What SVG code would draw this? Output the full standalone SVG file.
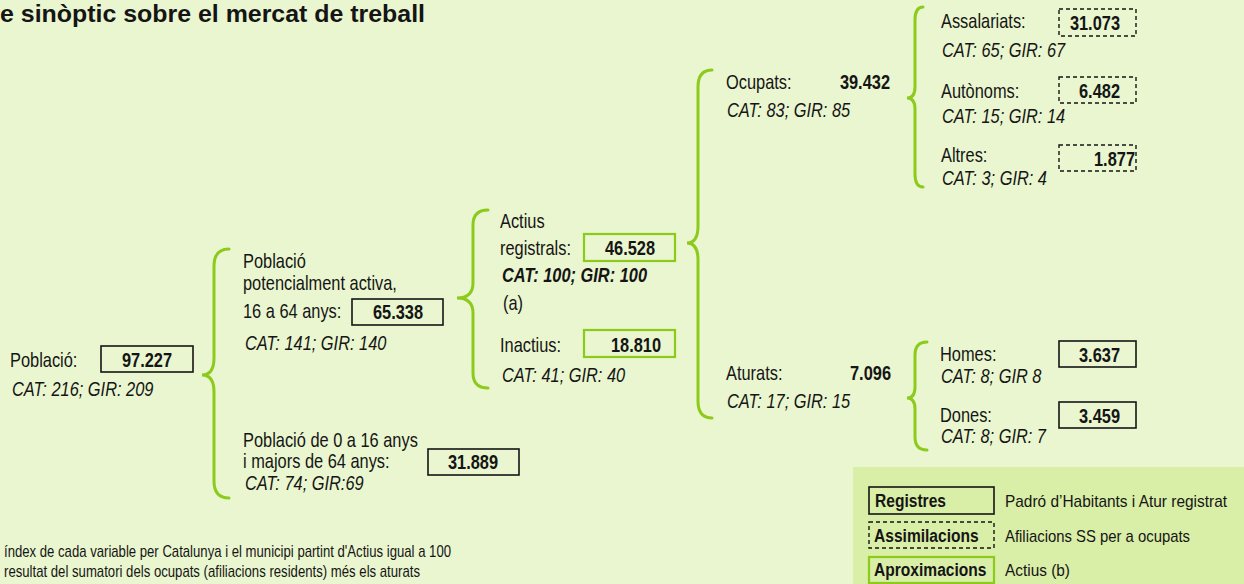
<svg xmlns="http://www.w3.org/2000/svg" width="1244" height="584" viewBox="0 0 1244 584">
<style>
text{font-family:"Liberation Sans",Arial,sans-serif;fill:#151515;font-size:20px}
.i{font-style:italic}
.b{font-weight:bold}
.n{font-weight:bold;text-anchor:middle}
.e{font-weight:bold;text-anchor:end}
.box{fill:none;stroke:#151515;stroke-width:1.6}
.dash{fill:none;stroke:#151515;stroke-width:1.4;stroke-dasharray:4 3}
.gbox{fill:none;stroke:#8ccb1c;stroke-width:2.2}
.brace{fill:none;stroke:#8ccb1c;stroke-width:3;stroke-linecap:round;stroke-linejoin:miter}
.s{font-size:17px}
.lg{font-size:19px;font-weight:bold}
</style>
<rect width="1244" height="584" fill="#eaf6cf"/>
<text x="0" y="22" class="b" style="font-size:24px" textLength="425" lengthAdjust="spacingAndGlyphs">e sinòptic sobre el mercat de treball</text>

<g id="connectors">
<path class="brace" d="M229 249 Q214 249 214 266 L214 358 Q214 375 202 375 Q214 375 214 392 L214 481 Q214 498 229 498"/>
<path class="brace" d="M488 210 Q473 210 473 225 L473 283 Q473 298 457 298 Q473 298 473 313 L473 373 Q473 388 488 388"/>
<path class="brace" d="M712 70 Q698 70 698 87 L698 226 Q698 243 687 243 Q698 243 698 260 L698 401 Q698 418 712 418"/>
<path class="brace" d="M923 7 Q915 7 915 20 L915 87 Q915 98 907 98 Q915 98 915 109 L915 174 Q915 187 923 187"/>
<path class="brace" d="M927 342 Q915 342 915 355 L915 387 Q915 398 907 398 Q915 398 915 409 L915 437 Q915 450 927 450"/>
</g>

<g id="poblacio">
<text transform="translate(10 367) scale(.82 1)">Població:</text>
<rect class="box" x="101" y="346" width="92" height="26"/>
<text transform="translate(147 367) scale(.82 1)" class="n">97.227</text>
<text transform="translate(12 396) scale(.82 1)" class="i">CAT: 216; GIR: 209</text>
</g>

<g id="pob-activa">
<text transform="translate(243 268) scale(.82 1)">Població</text>
<text transform="translate(243 290) scale(.82 1)">potencialment activa,</text>
<text transform="translate(243 318) scale(.82 1)">16 a 64 anys:</text>
<rect class="box" x="352" y="299" width="91" height="26"/>
<text transform="translate(398 319) scale(.82 1)" class="n">65.338</text>
<text transform="translate(245 350) scale(.82 1)" class="i">CAT: 141; GIR: 140</text>
</g>

<g id="pob-inactiva">
<text transform="translate(243 447) scale(.82 1)">Població de 0 a 16 anys</text>
<text transform="translate(243 468) scale(.82 1)">i majors de 64 anys:</text>
<rect class="box" x="428" y="449" width="91" height="26"/>
<text transform="translate(473 469) scale(.82 1)" class="n">31.889</text>
<text transform="translate(245 490) scale(.82 1)" class="i">CAT: 74; GIR:69</text>
</g>

<g id="actius">
<text transform="translate(500 228) scale(.82 1)">Actius</text>
<text transform="translate(500 255) scale(.82 1)">registrals:</text>
<rect class="gbox" x="584" y="234" width="91" height="27"/>
<text transform="translate(630 255) scale(.82 1)" class="n">46.528</text>
<text transform="translate(502 282) scale(.82 1)" class="i b">CAT: 100; GIR: 100</text>
<text transform="translate(503 310) scale(.82 1)">(a)</text>
</g>

<g id="inactius">
<text transform="translate(500 352) scale(.82 1)">Inactius:</text>
<rect class="gbox" x="584" y="330" width="91" height="27"/>
<text transform="translate(636 352) scale(.82 1)" class="n">18.810</text>
<text transform="translate(502 382) scale(.82 1)" class="i">CAT: 41; GIR: 40</text>
</g>

<g id="ocupats">
<text transform="translate(726 89) scale(.82 1)">Ocupats:</text>
<text transform="translate(890 89) scale(.82 1)" class="e">39.432</text>
<text transform="translate(727 117) scale(.82 1)" class="i">CAT: 83; GIR: 85</text>
</g>

<g id="aturats">
<text transform="translate(726 380) scale(.82 1)">Aturats:</text>
<text transform="translate(891 380) scale(.82 1)" class="e">7.096</text>
<text transform="translate(727 408) scale(.82 1)" class="i">CAT: 17; GIR: 15</text>
</g>

<g id="assalariats">
<text transform="translate(941 28) scale(.82 1)">Assalariats:</text>
<rect class="dash" x="1059" y="9" width="77" height="27"/>
<text transform="translate(1120 30) scale(.82 1)" class="e">31.073</text>
<text transform="translate(942 57) scale(.82 1)" class="i">CAT: 65; GIR: 67</text>
</g>

<g id="autonoms">
<text transform="translate(941 98) scale(.82 1)">Autònoms:</text>
<rect class="dash" x="1059" y="77" width="77" height="26"/>
<text transform="translate(1120 98) scale(.82 1)" class="e">6.482</text>
<text transform="translate(942 123) scale(.82 1)" class="i">CAT: 15; GIR: 14</text>
</g>

<g id="altres">
<text transform="translate(941 162) scale(.82 1)">Altres:</text>
<rect class="dash" x="1059" y="145" width="77" height="26"/>
<text transform="translate(1135 166) scale(.82 1)" class="e">1.877</text>
<text transform="translate(942 185) scale(.82 1)" class="i">CAT: 3; GIR: 4</text>
</g>

<g id="homes">
<text transform="translate(940 361) scale(.82 1)">Homes:</text>
<rect class="box" x="1059" y="341" width="77" height="26"/>
<text transform="translate(1120 362) scale(.82 1)" class="e">3.637</text>
<text transform="translate(941 383) scale(.82 1)" class="i">CAT: 8; GIR 8</text>
</g>

<g id="dones">
<text transform="translate(940 422) scale(.82 1)">Dones:</text>
<rect class="box" x="1059" y="402" width="77" height="26"/>
<text transform="translate(1120 423) scale(.82 1)" class="e">3.459</text>
<text transform="translate(941 443) scale(.82 1)" class="i">CAT: 8; GIR: 7</text>
</g>

<g id="legend">
<rect x="853" y="467" width="391" height="117" fill="#d9eea6"/>
<rect class="box" x="869" y="487" width="125" height="27"/>
<text transform="translate(875 507) scale(.82 1)" class="lg">Registres</text>
<text x="1005" y="507" class="s" textLength="222" lengthAdjust="spacingAndGlyphs">Padró d’Habitants i Atur registrat</text>
<rect class="dash" x="869" y="522" width="125" height="26"/>
<text transform="translate(874 542) scale(.82 1)" class="lg">Assimilacions</text>
<text x="1005" y="542" class="s" textLength="185" lengthAdjust="spacingAndGlyphs">Afiliacions SS per a ocupats</text>
<rect class="gbox" x="869" y="557" width="125" height="26"/>
<text transform="translate(874 576) scale(.82 1)" class="lg">Aproximacions</text>
<text x="1005" y="576" class="s" textLength="65" lengthAdjust="spacingAndGlyphs">Actius (b)</text>
</g>

<g id="notes">
<text x="4" y="557" class="s" textLength="447" lengthAdjust="spacingAndGlyphs">índex de cada variable per Catalunya i el municipi partint d'Actius igual a 100</text>
<text x="4" y="577" class="s" textLength="416" lengthAdjust="spacingAndGlyphs">resultat del sumatori dels ocupats (afiliacions residents) més els aturats</text>
</g>
</svg>
